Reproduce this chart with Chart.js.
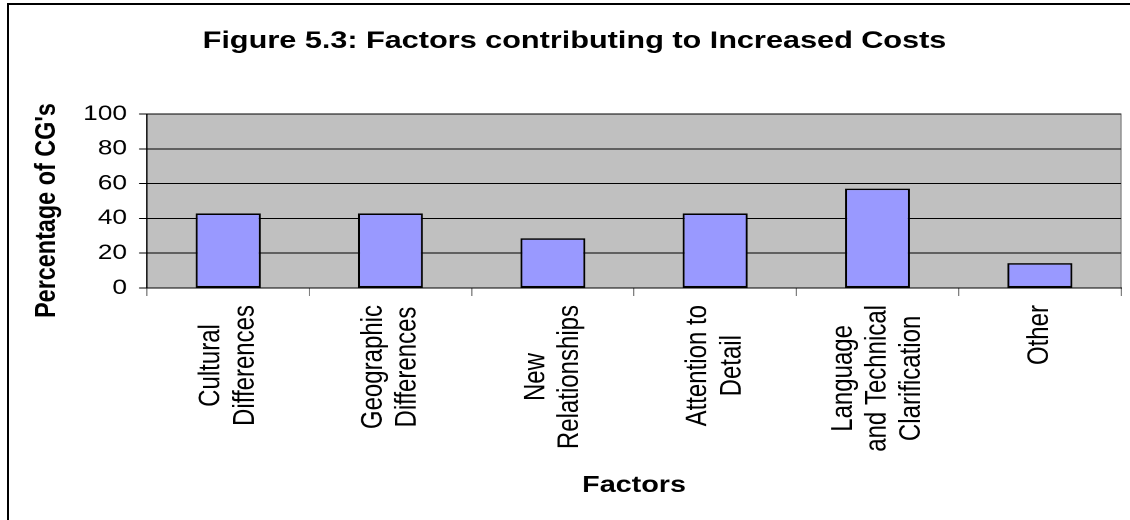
<!DOCTYPE html>
<html>
<head>
<meta charset="utf-8">
<title>Figure 5.3</title>
<script src="https://cdn.jsdelivr.net/npm/chart.js@4.4.1/dist/chart.umd.min.js"></script>
<style>
    body { margin: 0; background: #fff; }
    #wrap { position: relative; width: 1130px; height: 520px; overflow: hidden; background: #fff; }
    #frame { position: absolute; left: 7px; top: 3px; width: 1200px; height: 600px;
             border-left: 2px solid #000; border-top: 2px solid #000; }
    #costs { position: absolute; left: 0; top: 0; }
</style>
</head>
<body>
<div id="wrap">
    <!-- the source picture is stretched sideways, so the canvas is drawn narrow and widened by css -->
    <canvas id="costs" width="904" height="520" style="width:1130px;height:520px"></canvas>
    <div id="frame"></div>
</div>
<script>
const factors = [
    ['Cultural', 'Differences'],
    ['Geographic', 'Differences'],
    ['New', 'Relationships'],
    ['Attention to', 'Detail'],
    ['Language', 'and Technical', 'Clarification'],
    ['Other']
];
const percentages = [42.86, 42.86, 28.57, 42.86, 57.14, 14.29];
const yMin  = 0;
const yMax  = 100;
const yStep = 20;
const yTitle = "Percentage of CG's";

Chart.defaults.font.family = '"Liberation Sans", Arial, sans-serif';
Chart.defaults.color = '#000';

// grey plot area with its thin frame
const plotBackground = {
    id: 'plotBackground',
    beforeDraw(chart) {
        const {ctx, chartArea: a} = chart;
        ctx.save();
        ctx.fillStyle = '#c0c0c0';
        ctx.fillRect(a.left, a.top, a.right - a.left, a.bottom - a.top);
        ctx.strokeStyle = '#808080';
        ctx.lineWidth = 1;
        ctx.strokeRect(a.left, a.top, a.right - a.left, a.bottom - a.top);
        ctx.restore();
    }
};

// vertical category labels, lines centred on each other like excel does it
const factorLabels = {
    id: 'factorLabels',
    afterDraw(chart) {
        const ctx = chart.ctx;
        const xScale = chart.scales.x;
        const labelTop = 305;
        const lineGap = 27.2;
        ctx.save();
        ctx.font = '24px "Liberation Sans", Arial, sans-serif';
        ctx.fillStyle = '#000';
        ctx.textAlign = 'center';
        ctx.textBaseline = 'middle';
        chart.data.labels.forEach((lines, i) => {
            const maxW = Math.max(...lines.map(l => ctx.measureText(l).width));
            ctx.save();
            ctx.translate(xScale.getPixelForValue(i), labelTop);
            ctx.rotate(-Math.PI / 2);
            lines.forEach((line, j) => {
                ctx.fillText(line, -maxW / 2, (j - (lines.length - 1) / 2) * lineGap);
            });
            ctx.restore();
        });

        // y axis title sits a little below the middle of the axis in the original
        ctx.font = 'bold 23.4px "Liberation Sans", Arial, sans-serif';
        ctx.translate(37.6, 210.5);
        ctx.rotate(-Math.PI / 2);
        ctx.fillText(yTitle, 0, 0);
        ctx.restore();
    }
};

const costsCtx = document.getElementById('costs').getContext('2d');
const costsChart = new Chart(costsCtx, {
    type: 'bar',
    data: {
        labels: factors,
        datasets: [{
            data: percentages,
            backgroundColor: '#9999ff',
            borderColor: '#000',
            borderWidth: 1.6,
            borderSkipped: false,
            barPercentage: 0.4,
            categoryPercentage: 1
        }]
    },
    options: {
        responsive: false,
        devicePixelRatio: 2,
        animation: false,
        layout: {
            padding: { left: 22.4, right: 7.2, top: 0, bottom: 0 }
        },
        plugins: {
            legend: { display: false },
            tooltip: { enabled: false },
            title: {
                display: true,
                text: 'Figure 5.3: Factors contributing to Increased Costs',
                color: '#000',
                font: { size: 24.5, weight: 'bold' },
                padding: { top: 26.3, bottom: 58.3 }
            }
        },
        scales: {
            x: {
                offset: true,
                grid: {
                    offset: true,
                    drawOnChartArea: false,
                    tickLength: 8,
                    color: '#808080'
                },
                border: { color: '#000', width: 1 },
                ticks: { display: false },
                title: {
                    display: true,
                    text: 'Factors',
                    color: '#000',
                    font: { size: 23, weight: 'bold' },
                    padding: { top: 0, bottom: 20.7 }
                },
                afterFit(scale) { scale.height = 232; }
            },
            y: {
                min: yMin,
                max: yMax,
                ticks: {
                    stepSize: yStep,
                    color: '#000',
                    font: { size: 21 },
                    padding: 9.6
                },
                grid: { color: '#000', lineWidth: 1, tickLength: 6.4 },
                border: { color: '#000', width: 1 },
                title: { display: false },
                afterFit(scale) { scale.width = 95.2; }
            }
        }
    },
    plugins: [plotBackground, factorLabels]
});
</script>
</body>
</html>
